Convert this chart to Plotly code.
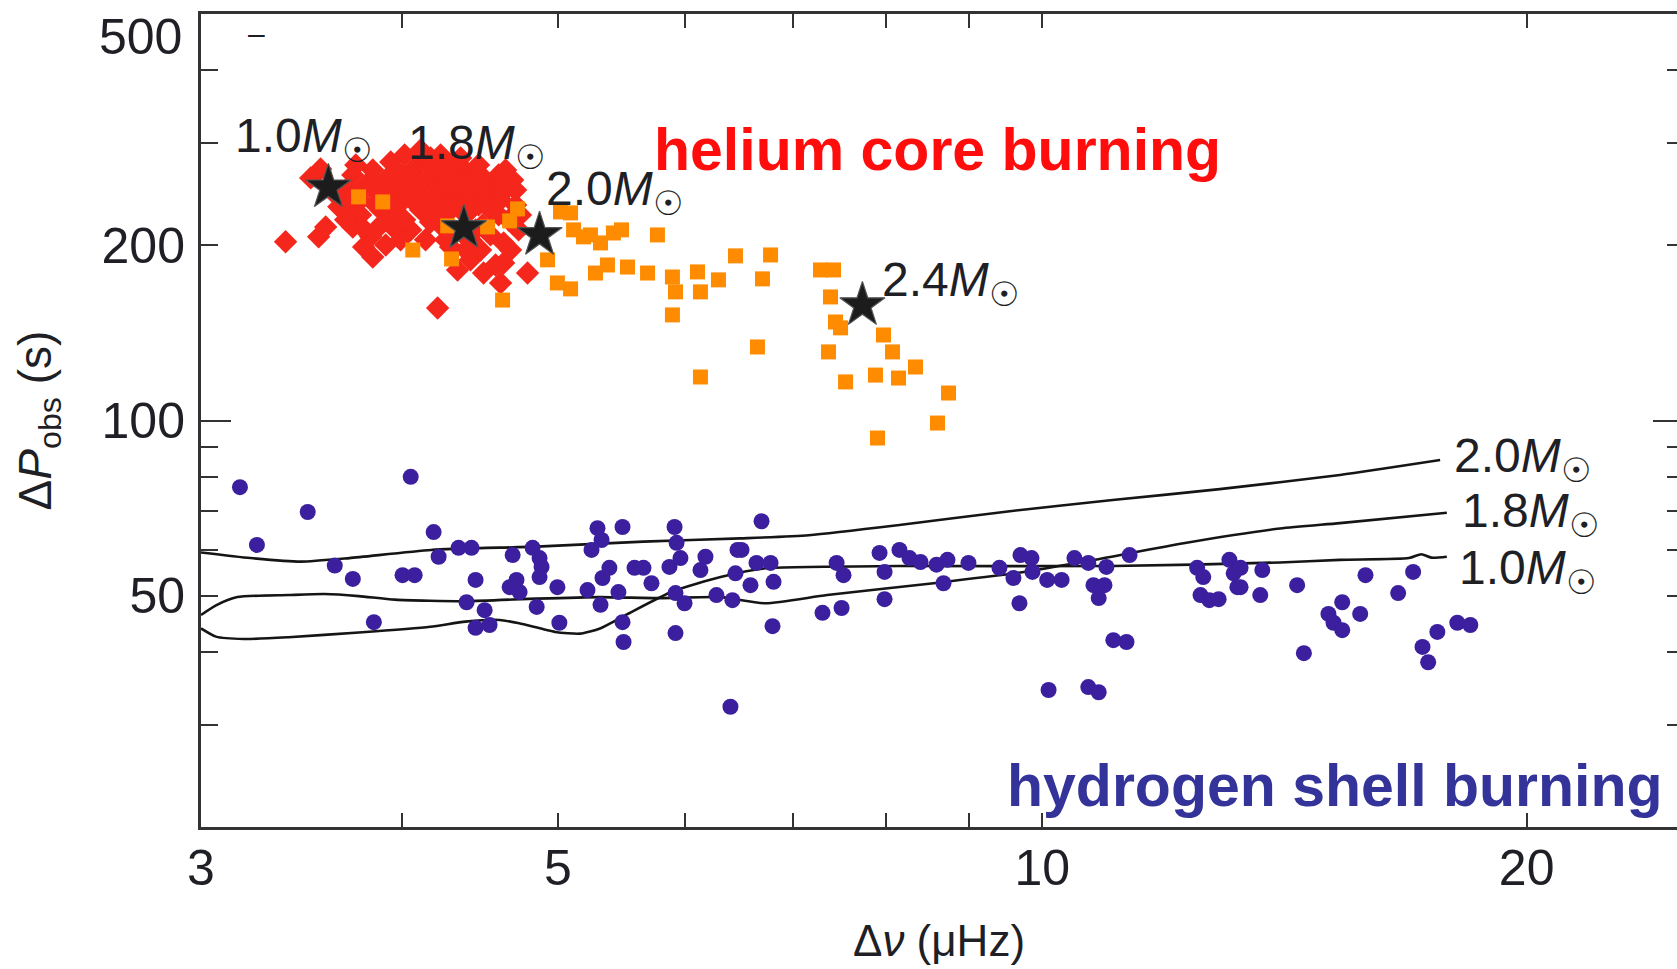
import numpy as np
import plotly.graph_objects as go

# ---------------- data ----------------
red_x = [3.386, 3.550, 3.586, 3.560, 3.510, 3.654, 3.728, 3.786, 3.836, 4.209,
         4.331, 4.412, 4.495, 4.606, 4.626, 4.787, 4.626, 4.288, 4.412, 4.050,
         3.936, 3.825, 3.690, 3.728, 3.770, 3.798, 3.836, 3.869, 3.880, 3.908,
         3.936, 3.964, 3.981, 3.998, 4.015, 4.033, 4.056, 4.073, 4.091, 4.108,
         4.137, 4.155, 4.167, 4.185, 4.203, 4.227, 4.239, 4.258, 4.276, 4.300,
         4.319, 4.337, 4.362, 4.381, 4.400, 4.425, 4.444, 4.463, 4.489, 4.508,
         4.527, 4.540, 4.573, 4.593, 4.606, 4.639, 4.659, 4.686, 4.706, 4.726,
         4.540, 4.476, 4.350, 4.227, 4.137, 3.964, 3.880, 3.770, 3.706, 3.638,
         4.108, 4.227, 4.350, 3.992, 4.167, 4.319, 3.908, 4.381, 4.672, 4.573,
         3.744, 3.781, 3.853, 3.925, 3.947, 4.015, 4.050, 4.120, 4.197, 4.215,
         4.288, 4.362, 4.412, 4.463, 4.508, 4.593, 4.639, 4.706, 4.739, 3.964,
         3.836, 3.744, 3.690, 4.258, 4.444, 4.167, 4.476]
red_y = [202.9, 206.9, 215.2, 270.7, 261.3, 233.0, 215.2, 198.8, 191.1, 156.1,
         181.5, 188.9, 179.3, 172.4, 186.6, 179.3, 202.0, 198.8, 204.5, 212.7,
         223.9, 206.9, 249.1, 264.4, 239.5, 254.1, 269.6, 244.3, 230.2, 259.2,
         278.3, 244.3, 234.8, 264.4, 286.1, 251.1, 239.5, 271.8, 259.2, 230.2,
         280.5, 247.2, 264.4, 234.8, 275.0, 254.1, 241.4, 267.5, 228.4, 249.1,
         261.3, 239.5, 271.8, 225.7, 254.1, 244.3, 264.4, 234.8, 216.9, 259.2,
         244.3, 230.2, 254.1, 264.4, 239.5, 249.1, 221.3, 259.2, 234.8, 212.7,
         208.5, 196.4, 211.0, 216.9, 204.5, 212.7, 216.9, 225.7, 234.8, 244.3,
         291.8, 286.1, 282.7, 204.5, 219.5, 234.8, 200.4, 196.4, 196.4, 185.1,
         275.0, 214.4, 234.8, 239.5, 254.1, 221.3, 264.4, 244.3, 249.1, 230.2,
         275.0, 254.1, 230.2, 275.0, 239.5, 225.7, 269.6, 249.1, 225.7, 269.6,
         254.1, 244.3, 221.3, 204.5, 212.7, 282.7, 254.1]

orange_x = [3.759, 3.891, 4.062, 4.294, 4.270, 4.521, 4.619, 4.719, 4.666, 4.926,
            5.018, 5.091, 5.113, 5.186, 4.996, 5.091, 5.314, 5.413, 5.476, 5.765,
            5.276, 5.367, 5.523, 5.684, 5.890, 5.916, 5.890, 6.105, 6.131, 6.291,
            6.446, 6.700, 6.778, 6.652, 6.131, 7.280, 7.417, 7.385, 7.438, 7.492,
            7.364, 7.546, 7.876, 7.967, 8.070, 8.140, 8.340, 8.744, 8.607, 7.899,
            5.238]
orange_y = [242.4, 237.6, 196.4, 189.6, 216.1, 215.2, 161.1, 231.1, 220.4, 188.9,
            228.4, 227.5, 212.7, 206.9, 172.4, 168.4, 202.0, 210.1, 212.7, 208.5,
            179.3, 185.1, 183.6, 179.3, 176.5, 166.4, 151.9, 180.1, 166.4, 174.5,
            191.9, 175.2, 192.6, 133.8, 118.8, 181.5, 181.5, 163.1, 147.7, 144.3,
            131.2, 116.5, 119.7, 140.3, 131.2, 118.3, 123.6, 111.5, 99.0, 93.3,
            208.5]

blue_x = [3.172, 4.050, 3.495, 3.250, 4.185, 3.633, 3.728, 3.842, 4.003, 4.073,
          4.215, 4.337, 4.418, 4.444, 4.387, 4.502, 4.444, 4.534, 4.686, 4.666,
          4.712, 4.733, 4.822, 4.870, 4.884, 4.870, 4.850, 4.996, 5.010, 5.291,
          5.322, 5.246, 5.484, 5.382, 5.329, 5.216, 5.314, 5.452, 5.484, 5.492,
          5.579, 5.651, 5.716, 5.908, 5.925, 5.865, 5.958, 5.916, 5.993, 5.916,
          6.131, 6.175, 6.273, 6.418, 6.465, 6.446, 6.400, 6.691, 6.502, 6.586,
          6.643, 6.778, 6.807, 6.797, 7.301, 7.503, 7.450, 7.524, 7.922, 7.979,
          7.979, 8.151, 8.269, 8.400, 8.595, 8.731, 8.681, 8.997, 9.405, 9.595,
          9.692, 9.846, 9.678, 9.860, 10.07, 10.28, 10.09, 10.47, 10.68, 10.76,
          10.96, 10.93, 10.84, 11.07, 11.28, 10.68, 10.84, 11.33, 12.48, 12.59,
          12.54, 12.70, 12.87, 13.07, 13.15, 13.22, 13.70, 13.66, 14.40, 15.88,
          16.64, 17.00, 15.36, 15.06, 15.17, 15.36, 15.76, 14.54, 17.23, 17.37,
          17.60, 18.11, 18.45, 13.28, 13.28]
blue_y = [76.8, 80.0, 69.6, 61.1, 64.3, 56.3, 53.4, 45.0, 54.2, 54.2,
          58.3, 60.4, 60.4, 53.2, 48.7, 47.2, 44.0, 44.5, 58.7, 51.7,
          53.2, 50.7, 60.4, 58.0, 56.0, 53.8, 47.8, 51.7, 44.9, 65.3,
          62.3, 59.9, 65.6, 55.8, 53.6, 51.1, 48.2, 50.7, 45.0, 41.6,
          55.8, 55.8, 52.5, 65.6, 61.6, 56.0, 58.0, 50.5, 48.5, 43.1,
          55.3, 58.3, 50.1, 49.1, 59.9, 54.6, 32.2, 67.1, 59.9, 52.1,
          56.9, 56.9, 52.8, 44.3, 46.7, 47.6, 56.9, 54.2, 59.2, 54.9,
          49.3, 59.9, 58.0, 57.1, 56.5, 57.6, 52.5, 56.9, 55.8, 53.6,
          58.7, 58.0, 48.5, 54.9, 53.2, 53.2, 34.4, 58.0, 56.9, 52.1,
          56.0, 52.1, 49.5, 41.9, 41.6, 34.8, 34.1, 58.7, 55.8, 53.8,
          50.1, 49.1, 49.3, 57.6, 54.6, 51.7, 55.3, 50.1, 52.1, 54.2,
          50.5, 54.9, 48.7, 46.5, 44.9, 43.6, 46.5, 39.8, 40.8, 38.4,
          43.3, 44.9, 44.5, 55.8, 51.7]

star_x = [3.60, 4.37, 4.87, 7.73]
star_y = [251.7, 214.3, 208.5, 157.9]

track20_x = [3.0, 3.22, 3.46, 3.71, 4.17, 4.85, 5.65, 6.49, 7.16, 8.15, 9.49, 11.06, 12.89, 15.31, 17.67]
track20_y = [59.3, 58.0, 57.2, 58.0, 59.9, 60.7, 61.9, 62.7, 63.5, 66.1, 69.7, 73.0, 76.2, 80.6, 85.5]
track18_x = [3.0, 3.065, 3.16, 3.40, 3.58, 3.76, 3.96, 4.38, 4.85, 5.31, 5.78, 6.31, 6.73,
             7.35, 8.56, 9.74, 10.78, 12.24, 14.05, 15.31, 17.84]
track18_y = [46.3, 48.1, 49.7, 50.1, 50.3, 49.9, 49.2, 48.9, 49.4, 49.7, 49.5, 49.7, 48.5,
             50.1, 52.5, 54.9, 57.6, 61.5, 65.2, 66.6, 69.4]
track10_x = [3.0, 3.065, 3.19, 3.40, 3.76, 4.165, 4.38, 4.60, 4.73, 4.98, 5.16, 5.31, 5.51,
             5.89, 6.31, 6.73, 8.15, 11.06, 14.05, 15.31, 16.9, 17.2, 17.45, 17.84]
track10_y = [43.9, 42.5, 42.1, 42.4, 43.2, 44.2, 45.1, 45.4, 44.8, 43.3, 43.0, 43.9, 46.3,
             50.8, 53.8, 55.7, 56.2, 56.2, 57.0, 57.6, 58.0, 58.9, 58.1, 58.3]

# mass labels: (mass, x, y) anchored at left/middle
mass_lab_m = ["1.0", "1.8", "2.0", "2.4", "2.0", "1.8", "1.0"]
mass_lab_x = [3.14, 4.02, 4.90, 7.93, 17.97, 18.18, 18.10]
mass_lab_y = [312.1, 303.5, 253.1, 176.5, 87.9, 70.8, 56.5]

x_tickvals = [3, 4, 5, 6, 7, 8, 9, 10, 20]
x_ticktext = ["3", "", "5", "", "", "", "", "10", "20"]
y_tickvals = [30, 40, 50, 60, 70, 80, 90, 100, 200, 300, 400, 500]
y_ticktext = ["", "", "50", "", "", "", "", "100", "200", "", "", ""]

X_RANGE = [3.0, 24.8]
Y_RANGE = [20.0, 500.0]

FONT = "Liberation Sans, Arial, Helvetica, sans-serif"
AX = "#333333"
TXT = "#1f1f26"

fig = go.Figure()

for tx, ty in [(track20_x, track20_y), (track18_x, track18_y), (track10_x, track10_y)]:
    fig.add_trace(go.Scatter(x=tx, y=ty, mode="lines",
                             line=dict(color="#151515", width=2.6, shape="spline", smoothing=0.6),
                             hoverinfo="skip", showlegend=False))

fig.add_trace(go.Scatter(x=blue_x, y=blue_y, mode="markers",
                         marker=dict(symbol="circle", size=16, color="#3b1f9e"),
                         showlegend=False))
fig.add_trace(go.Scatter(x=red_x, y=red_y, mode="markers",
                         marker=dict(symbol="diamond", size=18, color="#f5261b"),
                         showlegend=False))
fig.add_trace(go.Scatter(x=orange_x, y=orange_y, mode="markers",
                         marker=dict(symbol="square", size=15, color="#ff8c00"),
                         showlegend=False))
fig.add_trace(go.Scatter(x=star_x, y=star_y, mode="markers",
                         marker=dict(symbol="star", size=34, color="#1c1c1c",
                                     line=dict(color="#555555", width=1.2)),
                         showlegend=False))

# invisible anchors for the extra tick-only axes
for ya in ["y2", "y3", "y4"]:
    fig.add_trace(go.Scatter(x=[X_RANGE[0]], y=[100], yaxis=ya, mode="markers",
                             marker=dict(opacity=0), hoverinfo="skip", showlegend=False))

annotations = []
for m, lx, ly in zip(mass_lab_m, mass_lab_x, mass_lab_y):
    annotations.append(dict(x=np.log10(lx), y=np.log10(ly), xref="x", yref="y",
                            text=f"{m}<i>M</i><sub>☉</sub>", showarrow=False,
                            xanchor="left", yanchor="middle", yshift=-6,
                            font=dict(family=FONT, size=48, color=TXT)))

annotations.append(dict(x=np.log10(5.72), y=np.log10(292), xref="x", yref="y",
                        text="<b>helium core burning</b>", showarrow=False,
                        xanchor="left", yanchor="middle",
                        font=dict(family=FONT, size=59, color="#ff0d0d")))
annotations.append(dict(x=np.log10(9.48), y=np.log10(23.5), xref="x", yref="y",
                        text="<b>hydrogen shell burning</b>", showarrow=False,
                        xanchor="left", yanchor="middle",
                        font=dict(family=FONT, size=59, color="#333399")))
# small dash mark near the top-left corner of the frame
annotations.append(dict(x=np.log10(3.25), y=np.log10(462), xref="x", yref="y",
                        text="–", showarrow=False, xanchor="center", yanchor="middle",
                        font=dict(family=FONT, size=30, color=TXT)))
# top "500" label (sits just below the frame in the original)
annotations.append(dict(x=0, y=np.log10(456), xref="paper", yref="y", text="500",
                        showarrow=False, xanchor="right", yanchor="middle", xshift=-17,
                        font=dict(family=FONT, size=50, color=TXT)))
# axis titles
annotations.append(dict(x=-0.1098, y=0.5, xref="paper", yref="paper",
                        text="Δ<i>P</i><sub>obs</sub> (s)", textangle=-90, showarrow=False,
                        xanchor="center", yanchor="middle",
                        font=dict(family=FONT, size=46, color=TXT)))
annotations.append(dict(x=0.5, y=-0.1402, xref="paper", yref="paper",
                        text="Δ<i>ν</i> (μHz)", showarrow=False,
                        xanchor="center", yanchor="middle",
                        font=dict(family=FONT, size=44, color=TXT)))

yrange = [np.log10(Y_RANGE[0]), np.log10(Y_RANGE[1])]
fig.update_layout(
    width=1677, height=969, autosize=False,
    margin=dict(l=201, r=0, t=14, b=142, pad=0),
    paper_bgcolor="white", plot_bgcolor="white",
    font=dict(family=FONT, color=TXT),
    xaxis=dict(type="log", range=[np.log10(X_RANGE[0]), np.log10(X_RANGE[1])],
               showline=True, linewidth=3, linecolor=AX, mirror="ticks",
               ticks="inside", ticklen=14, tickwidth=2, tickcolor=AX,
               tickmode="array", tickvals=x_tickvals, ticktext=x_ticktext,
               tickfont=dict(family=FONT, size=50, color=TXT),
               ticklabelstandoff=-5,
               showgrid=False, zeroline=False),
    yaxis=dict(type="log", range=yrange,
               showline=True, linewidth=3, linecolor=AX,
               ticks="inside", ticklen=17, tickwidth=2, tickcolor=AX,
               tickmode="array", tickvals=y_tickvals, ticktext=y_ticktext,
               tickfont=dict(family=FONT, size=50, color=TXT),
               ticklabelstandoff=3,
               showgrid=False, zeroline=False),
    yaxis2=dict(type="log", range=yrange, overlaying="y", side="right", anchor="x",
                showline=False, ticks="inside", ticklen=10, tickwidth=2, tickcolor=AX,
                tickmode="array", tickvals=y_tickvals, showticklabels=False,
                showgrid=False, zeroline=False),
    yaxis3=dict(type="log", range=yrange, overlaying="y", side="left", anchor="x",
                showline=False, ticks="inside", ticklen=30, tickwidth=2, tickcolor=AX,
                tickmode="array", tickvals=[100], showticklabels=False,
                showgrid=False, zeroline=False),
    yaxis4=dict(type="log", range=yrange, overlaying="y", side="right", anchor="x",
                showline=False, ticks="inside", ticklen=24, tickwidth=2, tickcolor=AX,
                tickmode="array", tickvals=[100], showticklabels=False,
                showgrid=False, zeroline=False),
    annotations=annotations,
)

fig.write_html("out.html")
